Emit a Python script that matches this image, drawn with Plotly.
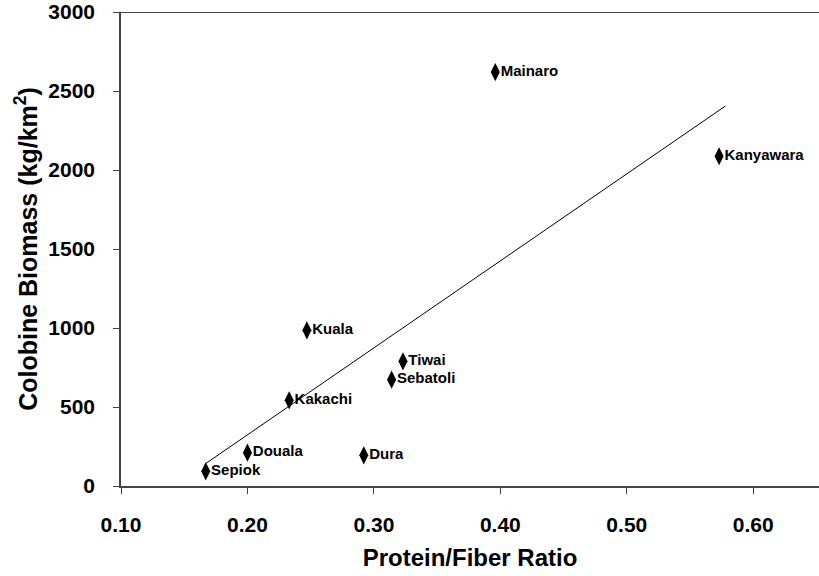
import plotly.graph_objects as go

sites = ["Sepiok", "Douala", "Dura", "Kakachi", "Kuala", "Tiwai", "Sebatoli", "Mainaro", "Kanyawara"]
protein_fiber = [0.167, 0.200, 0.292, 0.233, 0.247, 0.323, 0.314, 0.396, 0.573]
biomass = [93, 211, 194, 542, 985, 789, 673, 2620, 2087]

# linear trendline endpoints
trend_x = [0.167, 0.578]
trend_y = [142, 2405]

x_ticks = [0.10, 0.20, 0.30, 0.40, 0.50, 0.60]
x_tick_labels = ["0.10", "0.20", "0.30", "0.40", "0.50", "0.60"]
y_ticks = [0, 500, 1000, 1500, 2000, 2500, 3000]

FONT = "Liberation Sans, Arial, sans-serif"

fig = go.Figure()
fig.add_trace(go.Scatter(
    x=trend_x, y=trend_y, mode="lines",
    line=dict(color="black", width=1), hoverinfo="skip", showlegend=False))
fig.add_trace(go.Scatter(
    x=protein_fiber, y=biomass, mode="markers",
    marker=dict(symbol="diamond-tall", size=13, color="black"),
    showlegend=False))
fig.add_trace(go.Scatter(
    x=protein_fiber, y=biomass, mode="markers+text",
    text=["<b>%s</b>" % s for s in sites], textposition="middle right",
    textfont=dict(family=FONT, size=15, color="black"),
    marker=dict(size=7, color="rgba(0,0,0,0)"),
    hoverinfo="skip", showlegend=False))

fig.add_shape(type="line", xref="paper", yref="y", x0=0, x1=1, y0=3000, y1=3000,
              line=dict(color="#444444", width=2))

fig.update_layout(
    width=819, height=576,
    margin=dict(l=121, r=0, t=12, b=90),
    paper_bgcolor="white", plot_bgcolor="white",
    font=dict(family=FONT, color="black"),
    xaxis=dict(
        range=[0.10, 0.652], tickvals=x_ticks, ticktext=x_tick_labels,
        showgrid=False, zeroline=False, showline=True, linecolor="#444444", linewidth=1.5,
        ticks="outside", ticklen=6, tickcolor="#444444", tickwidth=1,
        ticklabelstandoff=13,
        tickfont=dict(family=FONT, size=21, color="black", weight="bold"),
        title=dict(text="<b>Protein/Fiber Ratio</b>", font=dict(family=FONT, size=24, color="black"),
                   standoff=14),
    ),
    yaxis=dict(
        range=[0, 3000], tickvals=y_ticks,
        showgrid=False, zeroline=False, showline=True, linecolor="#444444", linewidth=1.5,
        ticks="outside", ticklen=6, tickcolor="#444444", tickwidth=1,
        ticklabelstandoff=14,
        tickfont=dict(family=FONT, size=21, color="black", weight="bold"),
        title=dict(text="<b>Colobine Biomass (kg/km<sup>2</sup>)</b>",
                   font=dict(family=FONT, size=25, color="black"), standoff=4),
    ),
)

fig.write_html("out.html")
